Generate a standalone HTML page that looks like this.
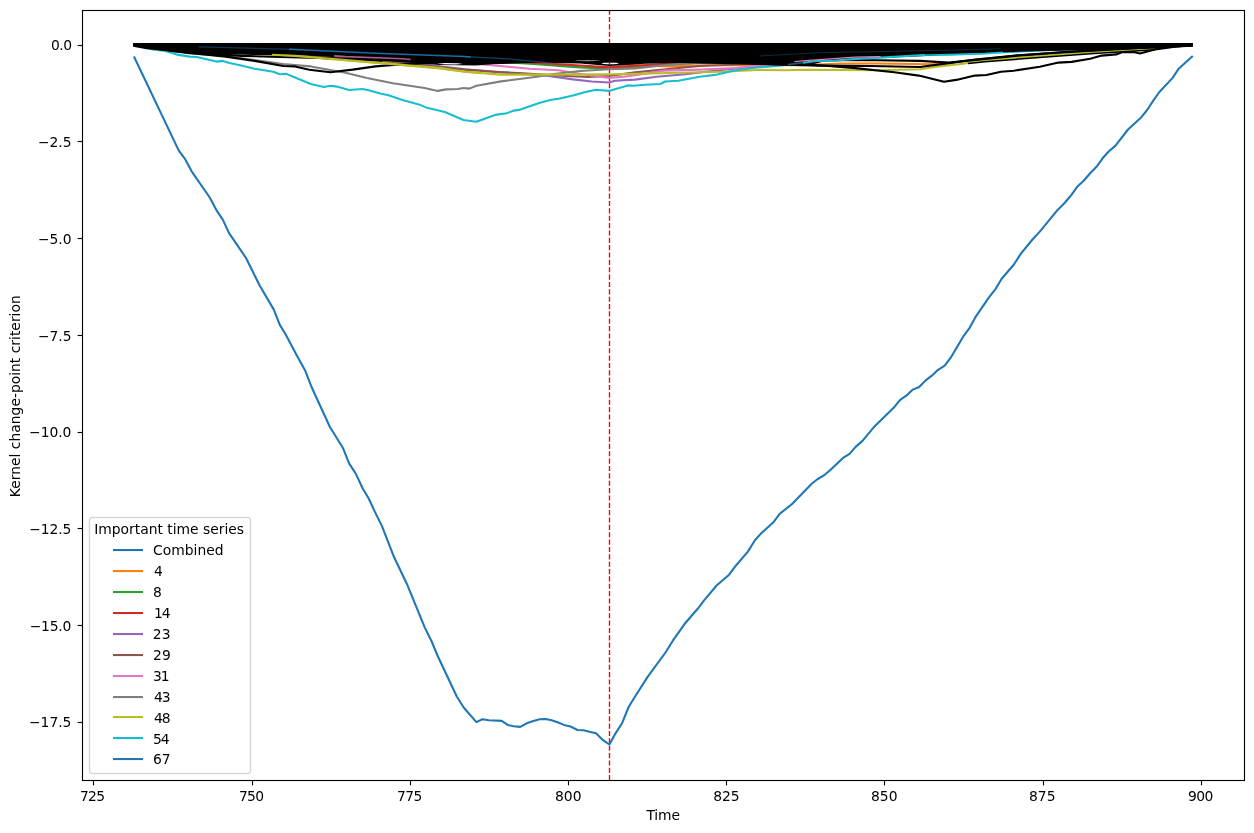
<!DOCTYPE html>
<html lang="en">
<head>
<meta charset="utf-8">
<title>Kernel change-point criterion</title>
<style>
html,body{margin:0;padding:0;background:#fff;}
body{width:1254px;height:833px;overflow:hidden;}
svg{display:block;}
</style>
</head>
<body>
<svg xmlns="http://www.w3.org/2000/svg" width="1254" height="833" viewBox="0 0 1254 833" font-family="'DejaVu Sans', 'Liberation Sans', sans-serif" font-size="13.89px" fill="#000">
<rect x="0" y="0" width="1254" height="833" fill="#fff"/>
<clipPath id="axclip"><rect x="82.5" y="10.5" width="1162.0" height="770.0"/></clipPath>
<g clip-path="url(#axclip)">
<line x1="609.5" y1="780.25" x2="609.5" y2="10.25" stroke="#ff0000" stroke-width="1.389" stroke-dasharray="5.139 2.222"/>
<polyline points="134.4,57.5 178.8,150.6 184.8,158.6 191.8,171.6 207.7,194.5 210.0,198.0 216.9,210.9 222.9,219.9 228.9,232.9 245.9,257.8 259.8,285.7 273.8,309.6 279.7,324.6 285.7,334.5 297.1,356.0 304.9,369.9 311.9,387.8 329.8,426.7 342.8,447.7 349.2,463.6 355.8,473.6 362.7,488.5 368.7,498.5 374.9,511.9 381.9,525.9 393.9,556.8 406.8,583.7 424.8,627.6 431.7,641.5 437.7,656.0 456.9,696.8 463.9,707.7 476.4,722.1 482.4,719.3 488.8,720.3 501.7,720.9 507.7,724.9 513.7,726.3 520.3,726.9 526.7,723.3 532.6,721.3 539.6,719.3 545.6,719.1 551.6,720.3 557.6,722.3 563.9,724.9 570.5,726.5 577.5,730.0 583.5,730.2 589.5,731.8 596.0,733.2 603.0,740.2 609.4,744.5 615.4,733.6 622.3,722.7 628.6,707.0 634.3,697.8 647.8,676.6 665.5,652.5 672.8,640.7 684.7,623.8 697.7,608.8 703.7,600.9 716.6,585.5 729.1,574.7 735.8,565.7 747.9,551.6 754.9,540.2 760.9,533.6 773.4,522.3 779.8,513.7 791.8,504.3 811.7,483.8 817.7,479.0 824.7,474.8 830.6,469.8 843.0,457.9 849.6,453.9 855.6,446.9 862.5,440.9 874.7,426.2 893.9,407.6 899.9,400.2 906.9,395.2 912.8,389.6 919.2,387.0 925.4,380.6 931.8,375.7 937.8,370.1 944.7,365.7 950.7,357.7 963.7,335.8 969.6,327.8 975.6,316.9 988.6,297.9 995.6,288.9 1001.7,278.8 1013.9,264.5 1020.9,253.6 1032.9,239.0 1039.8,231.6 1057.8,209.7 1064.8,202.7 1070.7,195.8 1077.7,186.2 1083.7,180.8 1089.7,173.8 1096.7,166.6 1102.6,158.3 1108.7,151.5 1115.5,145.6 1128.0,129.5 1140.6,118.1 1147.1,110.0 1153.6,100.2 1159.4,92.0 1172.4,78.1 1178.9,68.4 1192.0,56.6" fill="none" stroke="#1f77b4" stroke-width="2.083" stroke-linejoin="round" stroke-linecap="square" />
<polyline points="134.1,45.0 300.0,48.5 450.0,54.0 550.0,59.0 609.0,64.0 645.0,65.6 671.0,66.4 707.0,65.2 743.0,65.2 800.6,65.2 841.0,63.5 877.0,63.5 931.7,64.2 942.0,63.6" fill="none" stroke="#ff7f0e" stroke-width="2.083" stroke-linejoin="round" stroke-linecap="square" />
<polyline points="134.1,45.0 300.0,50.0 450.0,59.0 529.8,63.8 580.2,67.4 609.0,68.8 635.0,67.0 660.0,65.0 720.0,61.5 850.0,55.0 1000.0,49.0 1191.9,45.0" fill="none" stroke="#2ca02c" stroke-width="2.083" stroke-linejoin="round" stroke-linecap="square" />
<polyline points="134.1,45.0 300.0,49.0 450.0,58.0 551.4,63.8 609.0,67.4 635.0,65.7 671.0,63.5 720.0,60.5 850.0,54.0 1000.0,48.5 1191.9,45.0" fill="none" stroke="#d62728" stroke-width="2.083" stroke-linejoin="round" stroke-linecap="square" />
<polyline points="134.1,45.0 250.0,50.0 350.0,57.0 420.0,64.0 465.0,69.2 508.0,72.9 548.5,76.0 573.0,79.4 591.7,81.5 609.0,82.5 614.8,80.8 635.0,79.6 656.6,76.8 685.4,74.2 714.2,70.7 740.0,68.0 780.0,64.0 850.0,58.0 950.0,52.0 1050.0,48.5 1191.9,45.0" fill="none" stroke="#9467bd" stroke-width="2.083" stroke-linejoin="round" stroke-linecap="square" />
<polyline points="134.1,45.0 250.0,51.0 345.0,58.5 420.0,65.0 465.0,69.6 493.8,71.7 522.6,73.2 565.8,76.0 588.8,77.0 609.0,76.0 635.0,72.4 671.0,68.8 699.8,66.0 735.8,64.5 800.0,60.0 900.0,54.0 1000.0,50.0 1191.9,45.0" fill="none" stroke="#8c564b" stroke-width="2.083" stroke-linejoin="round" stroke-linecap="square" />
<polyline points="134.1,45.0 250.0,50.5 345.4,56.6 403.0,58.8 440.0,62.0 483.7,64.5 508.2,66.7 529.8,68.8 558.6,70.3 573.0,72.7 594.6,76.0 609.0,77.9 623.4,76.8 635.0,75.3 663.8,70.6 700.0,69.6 735.8,68.0 759.0,65.3 780.0,63.5 802.0,60.8 854.8,57.1 877.0,56.6 949.0,53.4 1050.0,49.5 1191.9,45.0" fill="none" stroke="#e377c2" stroke-width="2.083" stroke-linejoin="round" stroke-linecap="square" />
<polyline points="134.1,45.0 150.0,48.5 190.0,53.5 225.0,56.0 254.6,60.0 283.4,64.0 295.0,65.0 310.8,66.4 345.4,72.7 367.0,77.9 392.9,83.2 424.6,88.0 437.6,90.9 446.2,89.4 457.7,89.0 463.5,88.0 469.3,88.6 476.5,85.8 501.0,81.4 537.0,76.8 551.4,74.2 580.2,71.0 609.0,69.3 635.0,68.4 671.0,64.5 707.0,62.6 740.0,61.5 800.0,58.5 900.0,53.0 1000.0,49.5 1100.0,47.0 1191.9,45.0" fill="none" stroke="#7f7f7f" stroke-width="2.083" stroke-linejoin="round" stroke-linecap="square" />
<polyline points="134.1,45.0 200.0,49.5 260.0,54.2 295.0,55.9 381.4,63.1 439.0,68.1 465.0,71.7 501.0,74.6 551.4,74.6 609.0,74.2 635.0,73.9 678.2,72.7 721.4,71.7 757.4,70.0 786.2,70.3 805.0,69.8 877.0,70.3 920.2,69.3 934.6,67.0 963.4,63.8 975.0,61.6 1032.6,56.6 1090.2,52.3 1155.0,48.4 1191.9,45.0" fill="none" stroke="#bcbd22" stroke-width="2.083" stroke-linejoin="round" stroke-linecap="square" />
<polyline points="134.1,45.0 146.0,47.5 152.4,49.4 163.9,50.6 178.3,54.9 189.8,56.6 197.0,57.0 204.2,58.8 216.4,61.6 222.9,60.9 229.4,63.1 240.2,65.2 254.6,68.8 273.3,71.7 279.8,74.2 286.3,73.9 295.0,77.5 310.8,84.0 323.8,87.1 331.0,85.8 336.8,86.6 349.0,90.0 362.7,89.0 368.4,90.2 381.4,93.8 388.6,95.2 401.6,99.8 418.8,104.4 426.0,107.4 444.8,112.0 463.5,120.0 476.2,121.7 495.2,114.9 506.8,113.2 514.0,110.6 520.4,109.6 539.9,102.7 551.4,99.8 558.6,98.8 573.0,95.5 584.5,92.3 596.0,89.7 609.0,90.9 627.7,85.4 633.5,85.7 645.0,84.7 660.2,84.0 665.2,81.5 678.2,80.8 699.8,76.8 717.1,74.6 735.8,70.3 754.5,67.7 765.0,67.0 778.3,65.8 797.4,63.4 816.6,61.0 835.7,60.5 859.6,58.6 877.0,57.8 920.2,55.2 949.0,54.6 985.0,53.4 1003.8,52.3 1040.0,50.5 1100.0,48.2 1150.0,46.5 1191.9,45.0" fill="none" stroke="#17becf" stroke-width="2.083" stroke-linejoin="round" stroke-linecap="square" />
<polygon points="133.1,43.0 1193.0,43.0 1193.0,46.7 1175.0,47.4 1155.0,48.6 1119.0,49.4 1060.0,50.8 1047.0,51.0 997.0,52.4 975.0,53.2 940.0,54.9 920.0,56.2 877.0,58.0 835.0,60.0 822.0,62.0 812.0,64.6 800.0,65.6 779.0,65.4 760.0,64.6 736.0,63.5 678.0,63.1 645.0,63.8 609.5,66.0 580.0,63.5 537.0,62.8 492.0,64.2 475.0,65.6 440.0,65.0 420.0,63.5 381.0,60.8 340.0,57.6 320.0,56.3 295.0,55.0 255.0,55.0 225.0,54.2 190.0,53.6 168.0,50.8 146.6,49.2 133.1,46.7" fill="#000"/>
<polyline points="134.1,45.0 160.0,49.5 190.0,53.0 225.8,56.6 254.6,60.9 283.4,66.0 295.0,66.4 309.4,69.8 330.3,72.2 352.6,69.6 375.6,66.4 403.0,64.2 440.0,62.5 500.0,61.0 609.0,62.0 700.0,58.0 900.0,51.0 1191.9,45.0" fill="none" stroke="#000" stroke-width="2.083" stroke-linejoin="round" stroke-linecap="square" />
<polyline points="134.1,45.0 400.0,52.0 609.0,60.0 720.0,62.5 790.0,64.0 819.4,65.2 855.4,68.1 894.3,72.2 918.8,75.6 944.0,81.8 956.2,79.9 974.9,75.6 986.5,75.0 1000.9,71.7 1013.9,70.7 1039.8,66.7 1058.5,62.6 1071.5,61.9 1090.2,58.8 1101.7,55.6 1116.1,54.4 1121.9,52.3 1133.4,52.0 1139.9,53.4 1155.0,49.4 1175.0,46.8 1191.9,45.0" fill="none" stroke="#000" stroke-width="2.083" stroke-linejoin="round" stroke-linecap="square" />
<polyline points="134.1,45.0 400.0,51.0 609.0,60.0 760.0,64.0 819.0,65.6 869.8,66.0 920.2,67.0 949.0,63.1 975.0,59.5 1018.0,55.2 1061.0,52.3 1120.0,48.5 1191.9,45.0" fill="none" stroke="#000" stroke-width="2.083" stroke-linejoin="round" stroke-linecap="square" />
<polyline points="134.1,45.0 400.0,50.0 609.0,58.0 780.0,60.0 877.0,60.2 920.0,60.9 949.0,62.6 975.0,60.0 1018.0,55.6 1061.0,52.5 1191.9,45.0" fill="none" stroke="#000" stroke-width="2.083" stroke-linejoin="round" stroke-linecap="square" />
<polyline points="170.0,50.5 190.0,52.6 241.8,55.9 280.0,57.0 320.0,57.9 345.0,58.9 381.0,60.6" fill="none" stroke="#000" stroke-width="2.083" stroke-linejoin="round" stroke-linecap="square" />
<polyline points="968.0,63.6 985.0,61.8 1032.6,58.0 1090.2,53.8 1155.0,49.8" fill="none" stroke="#000" stroke-width="1.5" stroke-linejoin="round" stroke-linecap="butt" />
<polyline points="272.0,54.8 295.0,55.9 381.4,63.1 439.0,68.1 465.0,71.7 480.0,72.9" fill="none" stroke="#bcbd22" stroke-width="2.083" stroke-linejoin="round" stroke-linecap="butt"/>
<polyline points="788.0,64.6 797.4,63.4 806.0,62.3" fill="none" stroke="#17becf" stroke-width="1.6" stroke-linejoin="round" stroke-linecap="butt" stroke-opacity="0.5"/>
<polyline points="920.0,55.2 920.2,55.2 949.0,54.6 985.0,53.4 1003.0,52.3" fill="none" stroke="#17becf" stroke-width="1.5" stroke-linejoin="round" stroke-linecap="butt" />
<polyline points="803.0,62.7 816.6,61.0 835.7,60.5 859.6,58.6 877.0,57.8 920.2,55.2 925.0,55.1" fill="none" stroke="#17becf" stroke-width="2.083" stroke-linejoin="round" stroke-linecap="butt" />
<polyline points="335.0,55.9 345.4,56.6 403.0,58.8 410.0,59.4" fill="none" stroke="#e377c2" stroke-width="1.6" stroke-linejoin="round" stroke-linecap="square" stroke-opacity="0.75"/>
<polygon points="437,63.7 445,62.9 458,63.2 463,64.0 455,64.5 443,64.3" fill="#fff"/>
<polyline points="795.0,61.7 802.0,60.8 854.8,57.1 877.0,56.6 880.0,56.5" fill="none" stroke="#e377c2" stroke-width="1.2" stroke-linejoin="round" stroke-linecap="square" />
<polyline points="199.0,46.8 200.0,46.8 295.0,49.4 300.0,49.6" fill="none" stroke="#1f77b4" stroke-width="1.3" stroke-linejoin="round" stroke-linecap="square" stroke-opacity="0.45"/>
<polyline points="290.0,49.3 295.0,49.4 381.4,53.4 465.0,56.6 470.0,56.9" fill="none" stroke="#1f77b4" stroke-width="1.5" stroke-linejoin="round" stroke-linecap="square" stroke-opacity="0.9"/>
<polyline points="460.0,56.4 465.0,56.6 508.0,58.8 551.0,63.1 552.0,63.1" fill="none" stroke="#1f77b4" stroke-width="1.3" stroke-linejoin="round" stroke-linecap="square" stroke-opacity="0.55"/>
<polyline points="760.0,56.0 760.0,56.0 820.0,52.6 880.0,51.6 949.0,50.1 1000.0,48.8" fill="none" stroke="#1f77b4" stroke-width="1.0" stroke-linejoin="round" stroke-linecap="square" stroke-opacity="0.35"/>
<ellipse cx="587.5" cy="60.6" rx="13" ry="0.55" fill="#fff" fill-opacity="0.55"/>
<ellipse cx="610.2" cy="63.4" rx="8.5" ry="0.75" fill="#fff"/>
<line x1="609.5" y1="62.8" x2="609.5" y2="64.0" stroke="#ff0000" stroke-width="1.389"/>
</g>
<rect x="82.5" y="10.5" width="1162.0" height="770.0" fill="none" stroke="#000" stroke-width="1.111" stroke-linejoin="miter"/>
<line x1="93.5" y1="780.5" x2="93.5" y2="785.36" stroke="#000" stroke-width="1.111"/>
<text x="79.89" y="801.10" text-anchor="start" textLength="25.14" lengthAdjust="spacing">725</text>
<line x1="252.5" y1="780.5" x2="252.5" y2="785.36" stroke="#000" stroke-width="1.111"/>
<text x="238.89" y="801.12" text-anchor="start" textLength="25.16" lengthAdjust="spacing">750</text>
<line x1="410.5" y1="780.5" x2="410.5" y2="785.36" stroke="#000" stroke-width="1.111"/>
<text x="397.11" y="801.12" text-anchor="start" textLength="25.16" lengthAdjust="spacing">775</text>
<line x1="568.5" y1="780.5" x2="568.5" y2="785.36" stroke="#000" stroke-width="1.111"/>
<text x="554.94" y="801.09" text-anchor="start" textLength="26.54" lengthAdjust="spacing">800</text>
<line x1="726.5" y1="780.5" x2="726.5" y2="785.36" stroke="#000" stroke-width="1.111"/>
<text x="713.16" y="801.08" text-anchor="start" textLength="26.30" lengthAdjust="spacing">825</text>
<line x1="884.5" y1="780.5" x2="884.5" y2="785.36" stroke="#000" stroke-width="1.111"/>
<text x="870.91" y="801.10" text-anchor="start" textLength="26.58" lengthAdjust="spacing">850</text>
<line x1="1043.5" y1="780.5" x2="1043.5" y2="785.36" stroke="#000" stroke-width="1.111"/>
<text x="1029.03" y="801.11" text-anchor="start" textLength="26.51" lengthAdjust="spacing">875</text>
<line x1="1201.5" y1="780.5" x2="1201.5" y2="785.36" stroke="#000" stroke-width="1.111"/>
<text x="1188.06" y="801.10" text-anchor="start" textLength="25.34" lengthAdjust="spacing">900</text>
<line x1="82.5" y1="45.5" x2="77.64" y2="45.5" stroke="#000" stroke-width="1.111"/>
<text x="50.96" y="49.90" text-anchor="start" textLength="21.03" lengthAdjust="spacing">0.0</text>
<line x1="82.5" y1="141.5" x2="77.64" y2="141.5" stroke="#000" stroke-width="1.111"/>
<text x="38.02" y="146.78" text-anchor="start" textLength="33.52" lengthAdjust="spacing">−2.5</text>
<line x1="82.5" y1="238.5" x2="77.64" y2="238.5" stroke="#000" stroke-width="1.111"/>
<text x="37.93" y="243.81" text-anchor="start" textLength="33.63" lengthAdjust="spacing">−5.0</text>
<line x1="82.5" y1="335.5" x2="77.64" y2="335.5" stroke="#000" stroke-width="1.111"/>
<text x="37.93" y="340.81" text-anchor="start" textLength="33.60" lengthAdjust="spacing">−7.5</text>
<line x1="82.5" y1="432.5" x2="77.64" y2="432.5" stroke="#000" stroke-width="1.111"/>
<text x="29.11" y="436.89" text-anchor="start" textLength="42.34" lengthAdjust="spacing">−10.0</text>
<line x1="82.5" y1="528.5" x2="77.64" y2="528.5" stroke="#000" stroke-width="1.111"/>
<text x="29.35" y="533.79" text-anchor="start" textLength="42.05" lengthAdjust="spacing">−12.5</text>
<line x1="82.5" y1="625.5" x2="77.64" y2="625.5" stroke="#000" stroke-width="1.111"/>
<text x="29.74" y="630.80" text-anchor="start" textLength="41.48" lengthAdjust="spacing">−15.0</text>
<line x1="82.5" y1="722.5" x2="77.64" y2="722.5" stroke="#000" stroke-width="1.111"/>
<text x="28.97" y="726.90" text-anchor="start" textLength="42.42" lengthAdjust="spacing">−17.5</text>
<text x="646.44" y="819.94" text-anchor="start" textLength="33.58" lengthAdjust="spacing">Time</text>
<text transform="translate(20.40,396.20) rotate(-90)" text-anchor="middle" textLength="201.88" lengthAdjust="spacing">Kernel change-point criterion</text>
<rect x="89.5" y="517.5" width="161" height="256" rx="2.78" ry="2.78" fill="#fff" fill-opacity="0.8" stroke="#cccccc" stroke-opacity="0.8" stroke-width="1.389"/>
<text x="94.21" y="533.52" text-anchor="start" textLength="149.87" lengthAdjust="spacing">Important time series</text>
<line x1="112.95" y1="550.04" x2="143.05" y2="550.04" stroke="#1f77b4" stroke-width="2.083"/>
<text x="153.02" y="555.35" text-anchor="start" textLength="70.54" lengthAdjust="spacing">Combined</text>
<line x1="112.95" y1="571.04" x2="143.05" y2="571.04" stroke="#ff7f0e" stroke-width="2.083"/>
<text x="154.07" y="576.31" text-anchor="start">4</text>
<line x1="112.95" y1="592.04" x2="143.05" y2="592.04" stroke="#2ca02c" stroke-width="2.083"/>
<text x="152.88" y="597.27" text-anchor="start">8</text>
<line x1="112.95" y1="613.04" x2="143.05" y2="613.04" stroke="#d62728" stroke-width="2.083"/>
<text x="154.09" y="618.30" text-anchor="start" textLength="16.59" lengthAdjust="spacing">14</text>
<line x1="112.95" y1="634.04" x2="143.05" y2="634.04" stroke="#9467bd" stroke-width="2.083"/>
<text x="152.86" y="639.27" text-anchor="start" textLength="17.64" lengthAdjust="spacing">23</text>
<line x1="112.95" y1="655.04" x2="143.05" y2="655.04" stroke="#8c564b" stroke-width="2.083"/>
<text x="152.89" y="660.27" text-anchor="start" textLength="17.82" lengthAdjust="spacing">29</text>
<line x1="112.95" y1="676.04" x2="143.05" y2="676.04" stroke="#e377c2" stroke-width="2.083"/>
<text x="152.98" y="681.29" text-anchor="start" textLength="16.71" lengthAdjust="spacing">31</text>
<line x1="112.95" y1="697.04" x2="143.05" y2="697.04" stroke="#7f7f7f" stroke-width="2.083"/>
<text x="154.07" y="702.29" text-anchor="start" textLength="16.44" lengthAdjust="spacing">43</text>
<line x1="112.95" y1="717.04" x2="143.05" y2="717.04" stroke="#bcbd22" stroke-width="2.083"/>
<text x="153.91" y="723.19" text-anchor="start" textLength="16.71" lengthAdjust="spacing">48</text>
<line x1="112.95" y1="738.04" x2="143.05" y2="738.04" stroke="#17becf" stroke-width="2.083"/>
<text x="152.91" y="744.21" text-anchor="start" textLength="16.66" lengthAdjust="spacing">54</text>
<line x1="112.95" y1="759.04" x2="143.05" y2="759.04" stroke="#1f77b4" stroke-width="2.083"/>
<text x="153.01" y="764.33" text-anchor="start" textLength="17.67" lengthAdjust="spacing">67</text>
</svg>
</body>
</html>
